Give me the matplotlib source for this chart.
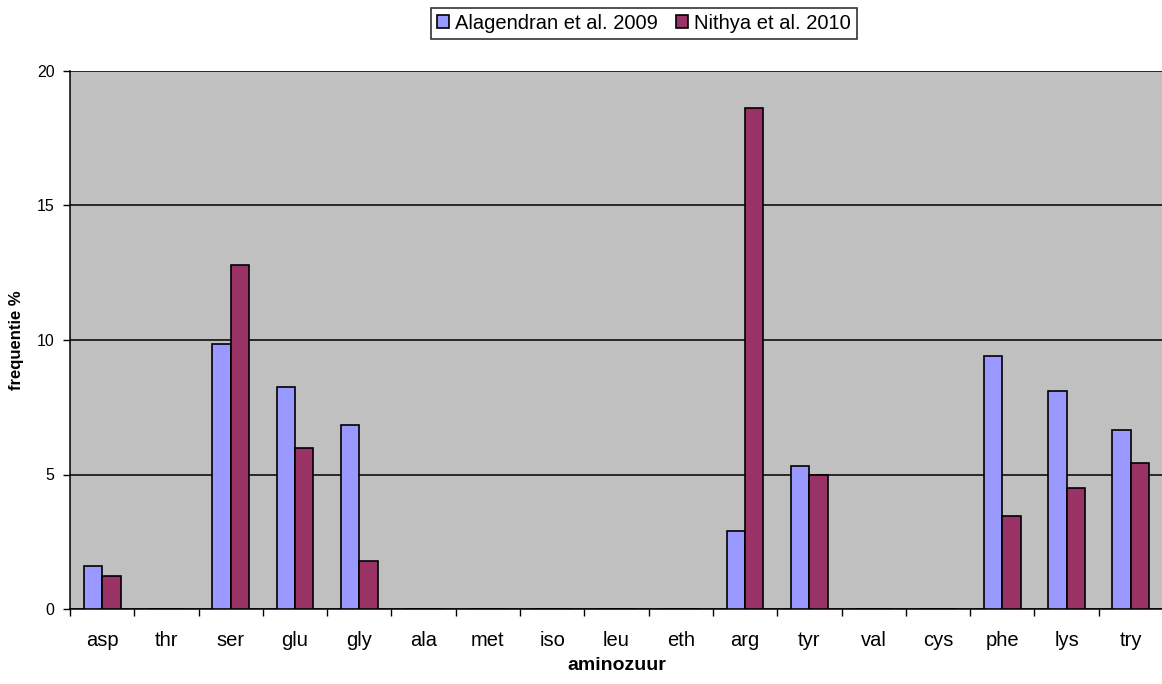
import matplotlib
matplotlib.use("Agg")
import matplotlib.pyplot as plt
import numpy as np

plt.rcParams['font.family'] = ['Liberation Sans', 'DejaVu Sans']

categories = ["asp", "thr", "ser", "glu", "gly", "ala", "met", "iso", "leu",
              "eth", "arg", "tyr", "val", "cys", "phe", "lys", "try"]
alagendran_2009 = [1.60, 0, 9.86, 8.26, 6.84, 0, 0, 0, 0, 0, 2.90, 5.31, 0, 0, 9.42, 8.11, 6.65]
nithya_2010 = [1.23, 0, 12.78, 6.00, 1.80, 0, 0, 0, 0, 0, 18.62, 4.98, 0, 0, 3.45, 4.51, 5.43]
series_names = ["Alagendran et al. 2009", "Nithya et al. 2010"]
y_ticks = [0, 5, 10, 15, 20]

fig = plt.figure(figsize=(11.62, 6.84), dpi=100)
ax = fig.add_axes([70 / 1162, 1 - 609 / 684, 1093 / 1162, (609 - 71) / 684])
ax.set_facecolor("#C0C0C0")

x = np.arange(len(categories))
w = 1 / 3.5
ax.bar(x - w / 2, alagendran_2009, width=w, color="#9999FF", edgecolor="black",
       linewidth=1.2, label=series_names[0], zorder=3)
ax.bar(x + w / 2, nithya_2010, width=w, color="#993366", edgecolor="black",
       linewidth=1.2, label=series_names[1], zorder=3)

ax.set_xlim(-0.5, len(categories) - 0.5)
ax.set_ylim(0, 20)
ax.set_yticks(y_ticks)
ax.yaxis.grid(True, color="black", linewidth=1.1, zorder=1)
ax.set_axisbelow(True)

# category labels centred, tick marks on category boundaries
ax.set_xticks(x)
ax.set_xticklabels(categories, fontsize=14.5)
ax.tick_params(axis="x", which="major", length=0, pad=16)
ax.set_xticks(np.arange(-0.5, len(categories) + 0.5, 1), minor=True)
ax.tick_params(axis="x", which="minor", length=5, width=1, direction="out")
ax.tick_params(axis="y", length=5, width=1, direction="out", labelsize=11.5, pad=6)

for side in ("top", "right"):
    ax.spines[side].set_visible(False)
ax.spines["left"].set_linewidth(1.1)
ax.spines["bottom"].set_linewidth(1.1)

ax.set_ylabel("frequentie %", fontsize=12, fontweight="bold", labelpad=9)
ax.set_xlabel("aminozuur", fontsize=14, fontweight="bold", labelpad=5)

leg = fig.legend(loc="center", bbox_to_anchor=(0.554, 0.966), ncol=2, fontsize=14.5,
                 frameon=True, fancybox=False, handlelength=0.6, handleheight=0.6,
                 handletextpad=0.3, columnspacing=0.9, borderpad=0.3)
leg.get_frame().set_edgecolor("black")
leg.get_frame().set_linewidth(1.2)

fig.savefig("out.png", dpi=100, facecolor="white")
